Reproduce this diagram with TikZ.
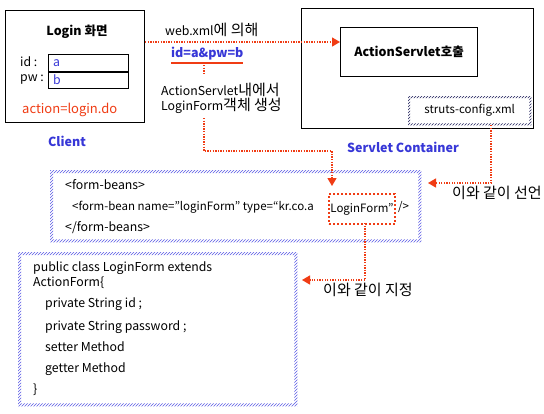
\documentclass[tikz,border=0pt]{standalone}
\usepackage{fontspec}
\setmainfont{Noto Sans CJK KR}
\newfontfamily\krf[Scale=1.22]{Noto Sans CJK KR}
\newcommand\K[1]{{\krf #1}}
\usetikzlibrary{arrows.meta,patterns}
\definecolor{redc}{RGB}{240,60,20}
\definecolor{bluec}{RGB}{55,55,215}
\definecolor{hatchblue}{RGB}{90,90,230}
\definecolor{navy}{RGB}{30,30,90}
\newcommand\hatchframe[3]{\fill[pattern=north east lines, pattern color=#2, even odd rule] (#1.north west) rectangle (#1.south east) ([shift={(#3,-#3)}]#1.north west) rectangle ([shift={(-#3,#3)}]#1.south east);}
\begin{document}
\begin{tikzpicture}[x=1pt,y=-1pt,
  txt/.style={font=\fontsize{12.3}{14}\selectfont, inner sep=0pt, anchor=west},
  stxt/.style={font=\fontsize{11.5}{13}\selectfont, inner sep=0pt, anchor=west},
  btxt/.style={font=\fontsize{12.5}{14}\selectfont\bfseries, inner sep=0pt},
  box/.style={draw, line width=1pt, anchor=north west, inner sep=0pt},
  plainbox/.style={anchor=north west, inner sep=0pt},
  redline/.style={draw=redc, line width=1.3pt, dash pattern=on 1.3pt off 1.3pt},
  tip/.style={-{Triangle[length=8pt,width=9pt]}}
]
\useasboundingbox (0,0) rectangle (544,413);
\fill[white] (0,0) rectangle (544,413);

% Client
\node[box, minimum width=139pt, minimum height=112pt] (client) at (5,10) {};
\node[btxt] (login) at (77,32) {Login 화면};
\node[txt] (idl) at (20,62) {id :};
\node[txt] (pwl) at (20,79) {pw :};
\node[box, minimum width=80pt, minimum height=17pt] (fa) at (48,54) {};
\node[box, minimum width=80pt, minimum height=16pt] (fb) at (48,72) {};
\node[txt, text=bluec] (av) at (53,63) {a};
\node[txt, text=bluec] (bv) at (53,80) {b};
\node[txt, text=redc, font=\fontsize{13}{15}\selectfont] (act) at (22,110) {action=login.do};
\node[btxt, text=bluec] (clientl) at (67,141) {Client};

% Servlet container
\node[box, minimum width=232pt, minimum height=120pt] (sc) at (301,8) {};
\node[box, minimum width=137pt, minimum height=49pt, font=\fontsize{12.5}{14}\selectfont\bfseries] (asv) at (340,27) {ActionServlet호출};
\node[plainbox, minimum width=123pt, minimum height=29pt, font=\fontsize{11.5}{13}\selectfont] (struts) at (408,96) {struts-config.xml};
\hatchframe{struts}{navy}{2pt}
\node[btxt, text=bluec] (scl) at (403,147) {Servlet Container};

% middle labels
\node[txt] (webxml) at (165,30) {web.xml\K{에 의해}};
\node[txt, text=bluec, font=\fontsize{12.5}{14}\selectfont\bfseries] (idpw) at (171,54) {id=a\&pw=b};
\coordinate (ulL) at (171,63);
\coordinate (ulR) at (243,63);
\draw[redc, line width=1.5pt] (ulL) -- (ulR);
\node[txt] (as1) at (161,90) {ActionServlet\K{내에서}};
\node[txt] (as2) at (161,106) {LoginForm\K{객체 생성}};

% form-beans
\node[plainbox, minimum width=371pt, minimum height=72pt] (beans) at (50,170) {};
\hatchframe{beans}{hatchblue}{3pt}
\node[txt] (b1) at (65,185) {<form-beans>};
\node[stxt] (b2) at (72,207) {<form-bean name="loginForm" type=“kr.co.a};
\node[plainbox, minimum width=66pt, minimum height=30pt, draw=redc, line width=2pt, dash pattern=on 2pt off 2pt, font=\fontsize{11.5}{13}\selectfont] (lfbox) at (328,193) {LoginForm”};
\node[stxt] (b2e) at (398,207) {/>};
\node[txt] (b3) at (65,228) {</form-beans>};
\node[txt] (decl) at (452,193) {\K{이와 같이 선언}};

% class box
\node[plainbox, minimum width=279pt, minimum height=154pt] (cls) at (18,252) {};
\hatchframe{cls}{hatchblue}{3pt}
\node[txt] (c1) at (33,268) {public class LoginForm extends};
\node[txt] (c2) at (33,283) {ActionForm\{};
\node[txt] (c3) at (45,304) {private String id ;};
\node[txt] (c4) at (45,327) {private String password ;};
\node[txt] (c5) at (45,347) {setter Method};
\node[txt] (c6) at (45,369) {getter Method};
\node[txt] (c7) at (33,390) {\}};
\node[txt] (spec) at (323,290) {\K{이와 같이 지정}};

% connectors
\coordinate (w1) at (150,42);
\draw[redline,tip] (client.east |- w1) -- (asv.west |- w1);
\coordinate (ulM) at (204,65);
\coordinate (ulE) at (204,75);
\draw[redline] (ulM) -- (ulE);
\coordinate (d1) at (204,118);
\coordinate (d2) at (332,151);
\coordinate (d3) at (332,186);
\draw[redline,tip] (d1) |- (d2) -- (d3);
\coordinate (s1) at (491,125);
\coordinate (s2) at (428,183);
\draw[redline,tip] (s1) |- (s2);
\coordinate (l1) at (365,223);
\coordinate (l2) at (302,280);
\draw[redline,tip] (l1) |- (l2);
\end{tikzpicture}
\end{document}
